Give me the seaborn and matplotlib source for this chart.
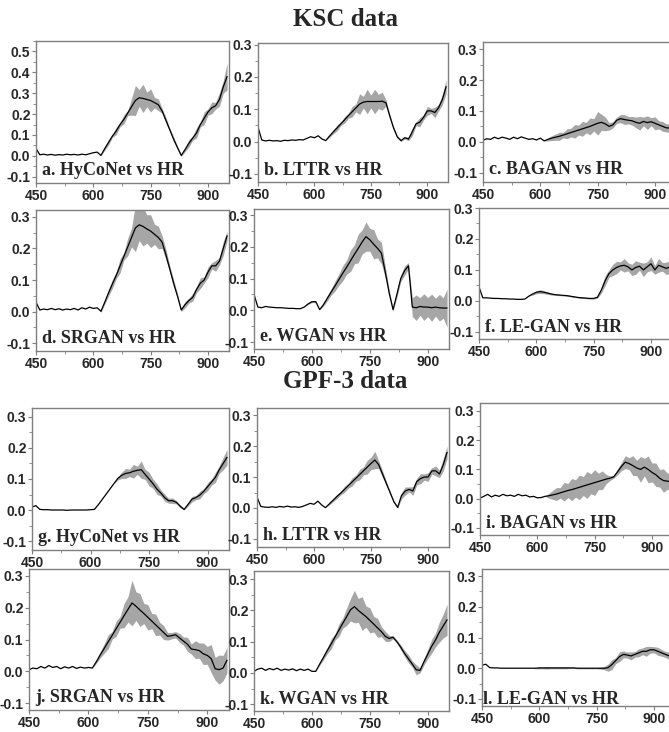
import matplotlib
matplotlib.use("Agg")
import matplotlib.pyplot as plt
from matplotlib.ticker import MultipleLocator, FormatStrFormatter
import numpy as np
import seaborn as sns

sns.set_style("white")
plt.rcParams["font.family"] = ["Liberation Sans", "DejaVu Sans"]
plt.rcParams["axes.unicode_minus"] = False

wavelength = [450, 460, 470, 480, 490, 500, 510, 520, 530, 540,
              550, 560, 570, 580, 590, 600, 610, 620, 630, 640,
              650, 660, 670, 680, 690, 700, 710, 720, 730, 740,
              750, 760, 770, 780, 790, 800, 810, 820, 830, 840,
              850, 860, 870, 880, 890, 900, 910, 920, 930, 940,
              950]

# ---------------- KSC ----------------
ksc_hyconet_mean = [.035, .005, .008, .004, .007, .003, .006, .004, .008, .005,
                    .007, .004, .008, .005, .010, .015, .018, .002, .035, .065,
                    .095, .120, .150, .175, .205, .235, .265, .278, .275, .270,
                    .265, .255, .245, .215, .170, .125, .080, .040, .002, .030,
                    .060, .085, .110, .150, .180, .210, .230, .240, .270, .330,
                    .380]
ksc_hyconet_spread = [0, 0, 0, 0, 0, 0, 0, 0, 0, 0,
                      0, 0, 0, 0, 0, 0, 0, 0, .008, .012,
                      .006, .018, .010, .022, .012, .040, .072, .040, .068, .035,
                      .055, .025, .028, .012, .014, .008, .012, .006, .005, .010,
                      .018, .010, .025, .012, .030, .015, .028, .016, .032, .030,
                      .065]

ksc_lttr_mean = [.045, .005, .002, .004, .002, .003, .001, .004, .003, .005,
                 .004, .006, .005, .010, .015, .012, .018, .008, .003, .017,
                 .030, .042, .055, .067, .080, .092, .104, .116, .122, .124,
                 .124, .124, .124, .125, .120, .080, .043, .015, .003, .012,
                 .008, .030, .055, .060, .075, .095, .095, .090, .105, .130,
                 .170]
ksc_lttr_spread = [0, 0, 0, 0, 0, 0, 0, 0, 0, 0,
                   0, 0, 0, 0, 0, 0, 0, 0, 0, .004,
                   .006, .009, .005, .010, .008, .016, .012, .032, .018, .038,
                   .020, .038, .022, .028, .010, .006, .005, .004, .003, .004,
                   .005, .012, .006, .014, .008, .014, .008, .016, .010, .016,
                   .022]

ksc_bagan_mean = [.005, .010, .008, .015, .010, .015, .012, .008, .015, .010,
                  .016, .012, .008, .010, .006, .012, .003, .008, .012, .015,
                  .018, .022, .026, .030, .034, .038, .042, .046, .050, .055,
                  .060, .063, .058, .050, .055, .070, .075, .072, .070, .068,
                  .063, .060, .066, .062, .065, .060, .055, .050, .045, .045,
                  .040]
ksc_bagan_spread = [0, 0, 0, 0, 0, 0, 0, 0, 0, 0,
                    0, 0, 0, 0, 0, 0, 0, .005, .008, .010,
                    .013, .009, .016, .014, .022, .016, .024, .017, .027, .020,
                    .038, .026, .022, .012, .010, .010, .013, .016, .012, .014,
                    .017, .022, .014, .022, .013, .021, .013, .016, .013, .015,
                    .015]

ksc_srgan_mean = [.030, .005, .008, .006, .010, .006, .009, .005, .008, .006,
                  .010, .005, .012, .008, .014, .010, .012, .001, .030, .060,
                  .088, .115, .145, .175, .205, .235, .265, .275, .270, .262,
                  .255, .245, .235, .220, .180, .135, .090, .050, .005, .022,
                  .035, .045, .070, .090, .100, .125, .145, .145, .160, .200,
                  .240]
ksc_srgan_spread = [0, 0, 0, 0, 0, 0, 0, 0, 0, 0,
                    0, 0, 0, 0, 0, 0, 0, .003, .006, .010,
                    .014, .011, .022, .012, .028, .030, .075, .050, .062, .045,
                    .052, .032, .036, .020, .017, .010, .012, .007, .005, .010,
                    .008, .012, .010, .017, .010, .017, .010, .017, .012, .022,
                    .015]

ksc_wgan_mean = [.050, .010, .008, .012, .010, .009, .008, .008, .007, .006,
                 .006, .005, .005, .010, .020, .027, .027, .002, .018, .038,
                 .058, .077, .097, .117, .136, .156, .176, .195, .215, .232,
                 .222, .208, .195, .180, .120, .055, .002, .050, .100, .125,
                 .140, .010, .008, .012, .010, .010, .008, .010, .008, .007,
                 .007]
ksc_wgan_spread = [0, 0, 0, 0, 0, 0, 0, 0, 0, 0,
                   0, 0, 0, 0, .002, .003, .003, 0, .005, .008,
                   .010, .016, .018, .024, .022, .034, .030, .045, .038, .046,
                   .036, .046, .030, .034, .018, .010, .005, .010, .010, .015,
                   .010, .030, .040, .028, .042, .030, .043, .028, .042, .032,
                   .060]

ksc_legan_mean = [.045, .010, .010, .009, .008, .008, .007, .007, .006, .006,
                  .005, .005, .006, .015, .022, .028, .030, .028, .025, .022,
                  .020, .019, .018, .017, .015, .013, .011, .010, .009, .008,
                  .008, .012, .035, .065, .088, .100, .108, .113, .115, .110,
                  .100, .108, .112, .100, .110, .120, .100, .115, .110, .105,
                  .110]
ksc_legan_spread = [0, 0, 0, 0, 0, 0, 0, 0, 0, 0,
                    0, 0, 0, 0, .003, .005, .006, .005, .004, .003,
                    .002, .002, .002, .002, .002, .002, .002, .002, .002, .002,
                    .002, .003, .010, .016, .012, .018, .020, .013, .022, .013,
                    .018, .022, .013, .022, .016, .022, .014, .022, .014, .020,
                    .020]

# ---------------- GPF-3 ----------------
gpf_hyconet_mean = [.010, .014, .002, .001, .001, .000, .000, .000, .000, -.001,
                    .000, .000, .000, .000, .000, .001, .002, .017, .034, .051,
                    .068, .085, .102, .112, .118, .120, .125, .128, .130, .115,
                    .100, .085, .068, .055, .040, .030, .030, .025, .012, .002,
                    .018, .035, .040, .048, .060, .075, .090, .105, .130, .150,
                    .170]
gpf_hyconet_spread = [0, 0, 0, 0, 0, 0, 0, 0, 0, 0,
                      0, 0, 0, 0, 0, 0, 0, 0, 0, 0,
                      0, 0, .005, .010, .016, .012, .022, .013, .028, .016,
                      .022, .015, .017, .010, .012, .008, .009, .005, .005, .002,
                      .005, .009, .007, .012, .008, .013, .010, .016, .012, .020,
                      .025]

gpf_lttr_mean = [.035, .005, .003, .002, .004, .002, .005, .003, .006, .003,
                 .004, .002, .005, .010, .015, .012, .022, .010, .001, .013,
                 .025, .037, .048, .060, .072, .084, .096, .108, .120, .132,
                 .144, .155, .140, .110, .080, .050, .020, .002, .040, .055,
                 .060, .055, .085, .095, .100, .100, .120, .120, .110, .140,
                 .180]
gpf_lttr_spread = [0, 0, 0, 0, 0, 0, 0, 0, 0, 0,
                   0, 0, 0, 0, 0, 0, 0, 0, 0, .003,
                   .005, .007, .006, .010, .008, .013, .010, .017, .013, .022,
                   .020, .028, .013, .011, .007, .005, .004, .003, .010, .013,
                   .008, .014, .011, .016, .010, .014, .010, .016, .012, .020,
                   .020]

gpf_bagan_mean = [.002, .008, .015, .006, .012, .008, .015, .010, .012, .008,
                  .015, .010, .012, .006, .008, .003, .004, .008, .010, .013,
                  .016, .020, .024, .028, .031, .035, .039, .043, .047, .051,
                  .055, .059, .063, .067, .070, .075, .092, .110, .125, .120,
                  .113, .105, .100, .108, .100, .090, .082, .070, .062, .060,
                  .058]
gpf_bagan_spread = [0, 0, 0, 0, 0, 0, 0, 0, 0, 0,
                    0, 0, 0, 0, 0, 0, 0, 0, .008, .015,
                    .022, .018, .032, .024, .038, .030, .042, .032, .046, .034,
                    .044, .028, .032, .016, .008, .005, .010, .014, .022, .020,
                    .034, .026, .044, .030, .046, .032, .040, .030, .040, .028,
                    .030]

gpf_srgan_mean = [.005, .010, .008, .015, .010, .018, .012, .015, .008, .014,
                  .010, .015, .009, .013, .010, .012, .010, .030, .052, .072,
                  .093, .113, .134, .154, .175, .195, .215, .205, .193, .182,
                  .170, .158, .146, .134, .122, .110, .112, .115, .105, .095,
                  .085, .070, .068, .065, .055, .050, .040, .008, .005, .010,
                  .035]
gpf_srgan_spread = [0, 0, 0, 0, 0, 0, 0, 0, 0, 0,
                    0, 0, 0, 0, 0, 0, 0, .005, .010, .015,
                    .022, .012, .024, .018, .038, .040, .072, .045, .052, .032,
                    .040, .024, .034, .020, .022, .012, .010, .010, .014, .013,
                    .022, .016, .028, .024, .034, .028, .044, .036, .046, .040,
                    .040]

gpf_wgan_mean = [.005, .012, .015, .008, .014, .010, .015, .008, .012, .009,
                 .013, .007, .012, .008, .012, .005, .005, .028, .050, .072,
                 .093, .115, .137, .159, .180, .202, .212, .200, .190, .180,
                 .168, .156, .144, .132, .117, .110, .114, .100, .082, .062,
                 .045, .028, .010, .008, .035, .060, .085, .105, .130, .150,
                 .170]
gpf_wgan_spread = [0, 0, 0, 0, 0, 0, 0, 0, 0, 0,
                   0, 0, 0, 0, 0, 0, 0, .004, .008, .010,
                   .016, .010, .020, .016, .028, .036, .052, .038, .054, .034,
                   .040, .025, .030, .016, .016, .010, .005, .005, .008, .010,
                   .013, .010, .016, .008, .010, .015, .022, .022, .032, .038,
                   .050]

gpf_legan_mean = [.010, .013, .002, .001, .001, .000, .000, .000, .000, .000,
                  .000, .000, .000, .000, .000, .001, .001, .001, .001, .001,
                  .001, .001, .001, .001, .001, .000, .000, .000, .000, .000,
                  .000, .000, .000, .002, .012, .025, .038, .045, .043, .040,
                  .045, .050, .055, .055, .060, .060, .055, .050, .045, .040,
                  .040]
gpf_legan_spread = [0, 0, 0, 0, 0, 0, 0, 0, 0, 0,
                    0, 0, 0, 0, .002, .003, .003, .004, .003, .003,
                    .003, .003, .003, .002, .002, .002, .002, .002, .002, .002,
                    .002, .003, .005, .012, .016, .010, .016, .011, .010, .013,
                    .009, .013, .011, .016, .011, .010, .013, .011, .010, .012,
                    .012]

panel_labels = ["a. HyCoNet vs HR", "b. LTTR vs HR", "c. BAGAN vs HR",
                "d. SRGAN vs HR", "e. WGAN vs HR", "f. LE-GAN vs HR",
                "g. HyCoNet vs HR", "h. LTTR vs HR", "i. BAGAN vs HR",
                "j. SRGAN vs HR", "k. WGAN vs HR", "l. LE-GAN vs HR"]
section_titles = ["KSC data", "GPF-3 data"]
x_ticks = [450, 600, 750, 900]

means = [ksc_hyconet_mean, ksc_lttr_mean, ksc_bagan_mean,
         ksc_srgan_mean, ksc_wgan_mean, ksc_legan_mean,
         gpf_hyconet_mean, gpf_lttr_mean, gpf_bagan_mean,
         gpf_srgan_mean, gpf_wgan_mean, gpf_legan_mean]
spreads = [ksc_hyconet_spread, ksc_lttr_spread, ksc_bagan_spread,
           ksc_srgan_spread, ksc_wgan_spread, ksc_legan_spread,
           gpf_hyconet_spread, gpf_lttr_spread, gpf_bagan_spread,
           gpf_srgan_spread, gpf_wgan_spread, gpf_legan_spread]

# layout in pixels: (left, right, top, bottom)
W, H = 669, 732
boxes = [(36, 229, 41, 183), (258, 448, 43, 182), (483, 676, 42, 182),
         (36, 229, 210, 351), (254, 449, 209, 349), (479, 672, 208, 339),
         (32, 229, 408, 550), (257, 449, 408, 547), (480, 673, 403, 535),
         (29, 229, 569, 710), (254, 449, 571, 711), (482, 675, 569, 706)]
ylims = [(-0.13, 0.55), (-0.125, 0.305), (-0.13, 0.323),
         (-0.125, 0.322), (-0.122, 0.319), (-0.123, 0.30),
         (-0.129, 0.329), (-0.126, 0.323), (-0.124, 0.327),
         (-0.122, 0.322), (-0.122, 0.326), (-0.123, 0.323)]
label_pos = [(0.03, 0.025)] * 11 + [(0.005, -0.015)]

fig = plt.figure(figsize=(W / 100, H / 100), dpi=100)
frame_col = "#7f7f7f"
sans = ["Liberation Sans", "DejaVu Sans"]
serif = ["Liberation Serif", "DejaVu Serif"]

for i in range(12):
    l, r, t, b = boxes[i]
    ax = fig.add_axes([l / W, 1 - b / H, (r - l) / W, (b - t) / H])
    wl = np.array(wavelength, dtype=float)
    m = np.array(means[i])
    s = np.array(spreads[i])
    ax.fill_between(wl, m - s, m + s, color="#a6a6a6", linewidth=0, zorder=1)
    sns.lineplot(x=wl, y=m, ax=ax, color="black", linewidth=0.9, zorder=2)
    ax.set_xlim(450, 955)
    ax.set_ylim(*ylims[i])
    ax.set_xticks(x_ticks)
    ax.xaxis.set_minor_locator(MultipleLocator(75))
    ax.yaxis.set_major_locator(MultipleLocator(0.1))
    ax.yaxis.set_minor_locator(MultipleLocator(0.05))
    ax.yaxis.set_major_formatter(FormatStrFormatter("%.1f"))
    ax.tick_params(which="major", direction="out", length=3, width=0.8,
                   color=frame_col, pad=1.0, bottom=True, left=True)
    ax.tick_params(which="minor", direction="out", length=2, width=0.6,
                   color=frame_col, bottom=True, left=True)
    for lab in ax.get_xticklabels() + ax.get_yticklabels():
        lab.set_family(sans)
        lab.set_fontweight("bold")
        lab.set_fontsize(10)
    for sp in ax.spines.values():
        sp.set_color(frame_col)
        sp.set_linewidth(1.0)
    ax.set_xlabel("")
    ax.set_ylabel("")
    ax.text(label_pos[i][0], label_pos[i][1], panel_labels[i],
            transform=ax.transAxes, family=serif, weight="bold", fontsize=13,
            ha="left", va="bottom", zorder=5)

fig.text(345 / W, 1 - 20 / H, section_titles[0], family=serif, weight="bold",
         fontsize=18, ha="center", va="center")
fig.text(345 / W, 1 - 382 / H, section_titles[1], family=serif, weight="bold",
         fontsize=18, ha="center", va="center")

fig.savefig("out.png", dpi=100)
